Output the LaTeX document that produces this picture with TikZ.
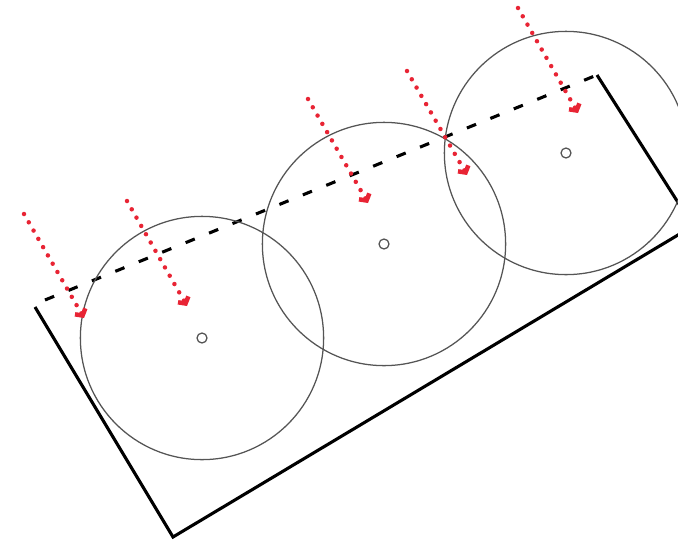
\documentclass[tikz,border=0pt]{standalone}
\usepackage{tikz}
\usepackage{xcolor}
\usetikzlibrary{arrows.meta}

\definecolor{raycol}{RGB}{232,36,52}
\definecolor{diskcol}{RGB}{85,85,85}

\begin{document}
\begin{tikzpicture}[
  x=0.025cm, y=-0.025cm,
  wall/.style={line width=2.2pt, draw=black, line join=miter},
  cover/.style={line width=2.2pt, draw=black, dash pattern=on 7pt off 11pt},
  disk/.style={circle, draw=diskcol, line width=0.9pt, minimum size=6.08cm, inner sep=0pt},
  hub/.style={circle, draw=diskcol, line width=0.9pt, minimum size=0.25cm, inner sep=0pt},
  ray/.style={draw=raycol, line width=3.2pt, line cap=round, dash pattern=on 0pt off 6.8pt,
              -{Straight Barb[length=3.4pt, width=8.5pt]}},
]
\useasboundingbox (0,0) rectangle (678,540);
\clip (0,0) rectangle (678,540);

% container
\coordinate (lefttop) at (35,307);
\coordinate (leftbot) at (173,537);
\coordinate (rightbot) at (693,226);
\coordinate (righttop) at (597,75);
\coordinate (covertop) at (45,300);
\draw[wall] (lefttop) -- (leftbot) -- (rightbot) -- (righttop);
\draw[cover] (covertop) -- (righttop);

% cylinders
\node[disk] (disk1) at (202,338) {};
\node[disk] (disk2) at (384,244) {};
\node[disk] (disk3) at (566,153) {};
\node[hub] (hub1) at (disk1.center) {};
\node[hub] (hub2) at (disk2.center) {};
\node[hub] (hub3) at (disk3.center) {};

% incoming rays
\coordinate (ray1s) at (24,214);
\coordinate (ray1e) at (84,318);
\coordinate (ray2s) at (127,201);
\coordinate (ray2e) at (187,306);
\coordinate (ray3s) at (308,99);
\coordinate (ray3e) at (368,203);
\coordinate (ray4s) at (407,71);
\coordinate (ray4e) at (467,175);
\coordinate (ray5s) at (518,8);
\coordinate (ray5e) at (578,113);
\draw[ray] (ray1s) -- (ray1e);
\draw[ray] (ray2s) -- (ray2e);
\draw[ray] (ray3s) -- (ray3e);
\draw[ray] (ray4s) -- (ray4e);
\draw[ray] (ray5s) -- (ray5e);
\end{tikzpicture}
\end{document}
